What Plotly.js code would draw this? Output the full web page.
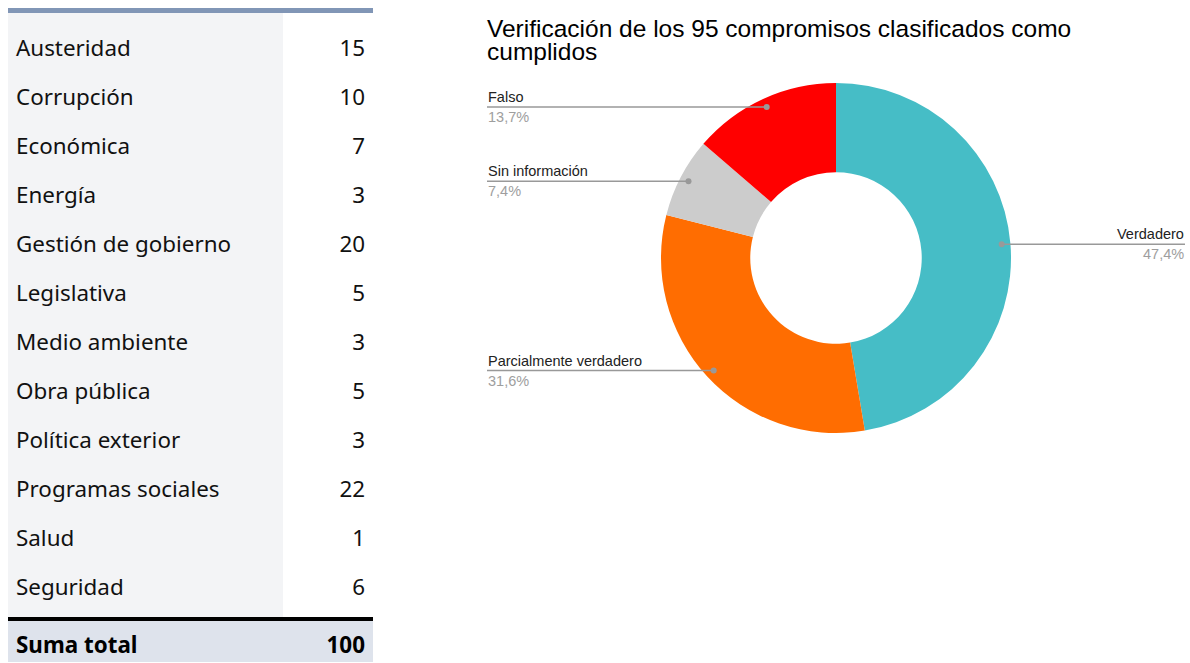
<!DOCTYPE html>
<html><head><meta charset="utf-8">
<script src="https://cdn.plot.ly/plotly-3.0.1.min.js"></script>
<style>html,body{margin:0;padding:0;background:#fff;} #chart{width:1190px;height:663px;}</style>
</head><body><div id="chart"></div>
<script>
// ---- data ----
const temas = ['Austeridad','Corrupción','Económica','Energía','Gestión de gobierno','Legislativa','Medio ambiente','Obra pública','Política exterior','Programas sociales','Salud','Seguridad'];
const compromisos = [15,10,7,3,20,5,3,5,3,22,1,6];
const totalLabel = 'Suma total';
const verifLabels = ['Verdadero','Parcialmente verdadero','Sin información','Falso'];
const verifValues = [45,30,7,13];
const verifColors = ['#46BDC6','#FF6D01','#CCCCCC','#FF0000'];
const titleLines = ['Verificación de los 95 compromisos clasificados como', 'cumplidos'];

// ---- geometry ----
const W = 1190, H = 663;
const px2x = p => p / W, px2y = p => 1 - p / H;
const tableFont = 'Noto Sans, Open Sans, sans-serif';
const totalSum = compromisos.reduce((a,b)=>a+b,0);

const tabla = {
  type: 'table',
  domain: {x: [px2x(8), px2x(373)], y: [px2y(619), px2y(13)]},
  columnwidth: [275, 90],
  header: {values: ['', ''], height: 18, fill: {color: ['#F3F4F6', '#FFFFFF']}, line: {width: 0, color: ['#F3F4F6', '#FFFFFF']}, font: {size: 8}},
  cells: {
    values: [temas, compromisos],
    height: 49,
    align: ['left', 'right'],
    fill: {color: ['#F3F4F6', '#FFFFFF']},
    line: {width: 0, color: ['#F3F4F6', '#FFFFFF']},
    font: {family: tableFont, size: 22.4, color: '#111'}
  }
};
const tablaTotal = {
  type: 'table',
  domain: {x: [px2x(8), px2x(373)], y: [0, px2y(617)]},
  columnwidth: [275, 90],
  header: {values: ['', ''], height: 4, fill: {color: '#000'}, line: {width: 0, color: '#000'}, font: {size: 4}},
  cells: {
    values: [['<b>' + totalLabel + '</b>'], ['<b>' + totalSum + '</b>']],
    height: 42,
    align: ['left', 'right'],
    fill: {color: '#DEE3EC'},
    line: {width: 0, color: '#DEE3EC'},
    font: {family: tableFont, size: 22.4, color: '#000'}
  }
};

const cx = 836, cy = 258, R = 175;
const dona = {
  type: 'pie',
  labels: verifLabels,
  values: verifValues,
  marker: {colors: verifColors, line: {width: 0}},
  hole: 0.49,
  sort: false,
  direction: 'clockwise',
  rotation: 0,
  textinfo: 'none',
  showlegend: false,
  domain: {x: [px2x(cx - R), px2x(cx + R)], y: [px2y(cy + R), px2y(cy - R)]}
};

const vTotal = verifValues.reduce((a,b)=>a+b,0);
const shapes = [
  {type: 'rect', xref: 'paper', yref: 'paper', x0: px2x(8), x1: px2x(373), y0: px2y(13), y1: px2y(8), fillcolor: '#8196B6', line: {width: 0}}
];
const annotations = [];
let cum = 0;
const labFont = 'Liberation Sans, Arial, sans-serif';
verifValues.forEach((v, i) => {
  const m = (cum + v / 2) / vTotal; cum += v;
  const th = 2 * Math.PI * m;
  const dx = cx + 0.95 * R * Math.sin(th), dy = cy - 0.95 * R * Math.cos(th);
  const right = Math.sin(th) >= 0;
  const lx = right ? 1185 : 487;
  shapes.push({type: 'line', xref: 'paper', yref: 'paper', x0: px2x(lx), x1: px2x(dx), y0: px2y(dy), y1: px2y(dy), line: {color: '#999', width: 1.5}});
  shapes.push({type: 'circle', xref: 'paper', yref: 'paper', x0: px2x(dx - 3), x1: px2x(dx + 3), y0: px2y(dy + 3), y1: px2y(dy - 3), fillcolor: '#999', line: {width: 0}});
  const pct = (v / vTotal * 100).toFixed(1).replace('.', ',') + '%';
  annotations.push({xref: 'paper', yref: 'paper', x: px2x(lx), y: px2y(dy), xanchor: right ? 'right' : 'left', yanchor: 'bottom', text: verifLabels[i], showarrow: false, font: {family: labFont, size: 14.5, color: '#222'}, borderpad: 0, yshift: 1});
  annotations.push({xref: 'paper', yref: 'paper', x: px2x(lx), y: px2y(dy), xanchor: right ? 'right' : 'left', yanchor: 'top', text: pct, showarrow: false, font: {family: labFont, size: 14.5, color: '#9E9E9E'}, borderpad: 0, yshift: -1});
});

const titleText = titleLines.map(t => '<span style="font-size:24.5px">' + t + '</span>').join('<br>');
const layout = {
  width: W, height: H,
  margin: {l: 0, r: 0, t: 0, b: 0},
  paper_bgcolor: '#fff',
  title: {text: titleText, x: px2x(487), xanchor: 'left', xref: 'paper', y: 1 - 37 / H, yanchor: 'top', yref: 'container', font: {family: labFont, size: 18, color: '#000'}},
  shapes: shapes,
  annotations: annotations
};
Plotly.newPlot('chart', [tabla, tablaTotal, dona], layout, {displayModeBar: false, staticPlot: true});
</script></body></html>
